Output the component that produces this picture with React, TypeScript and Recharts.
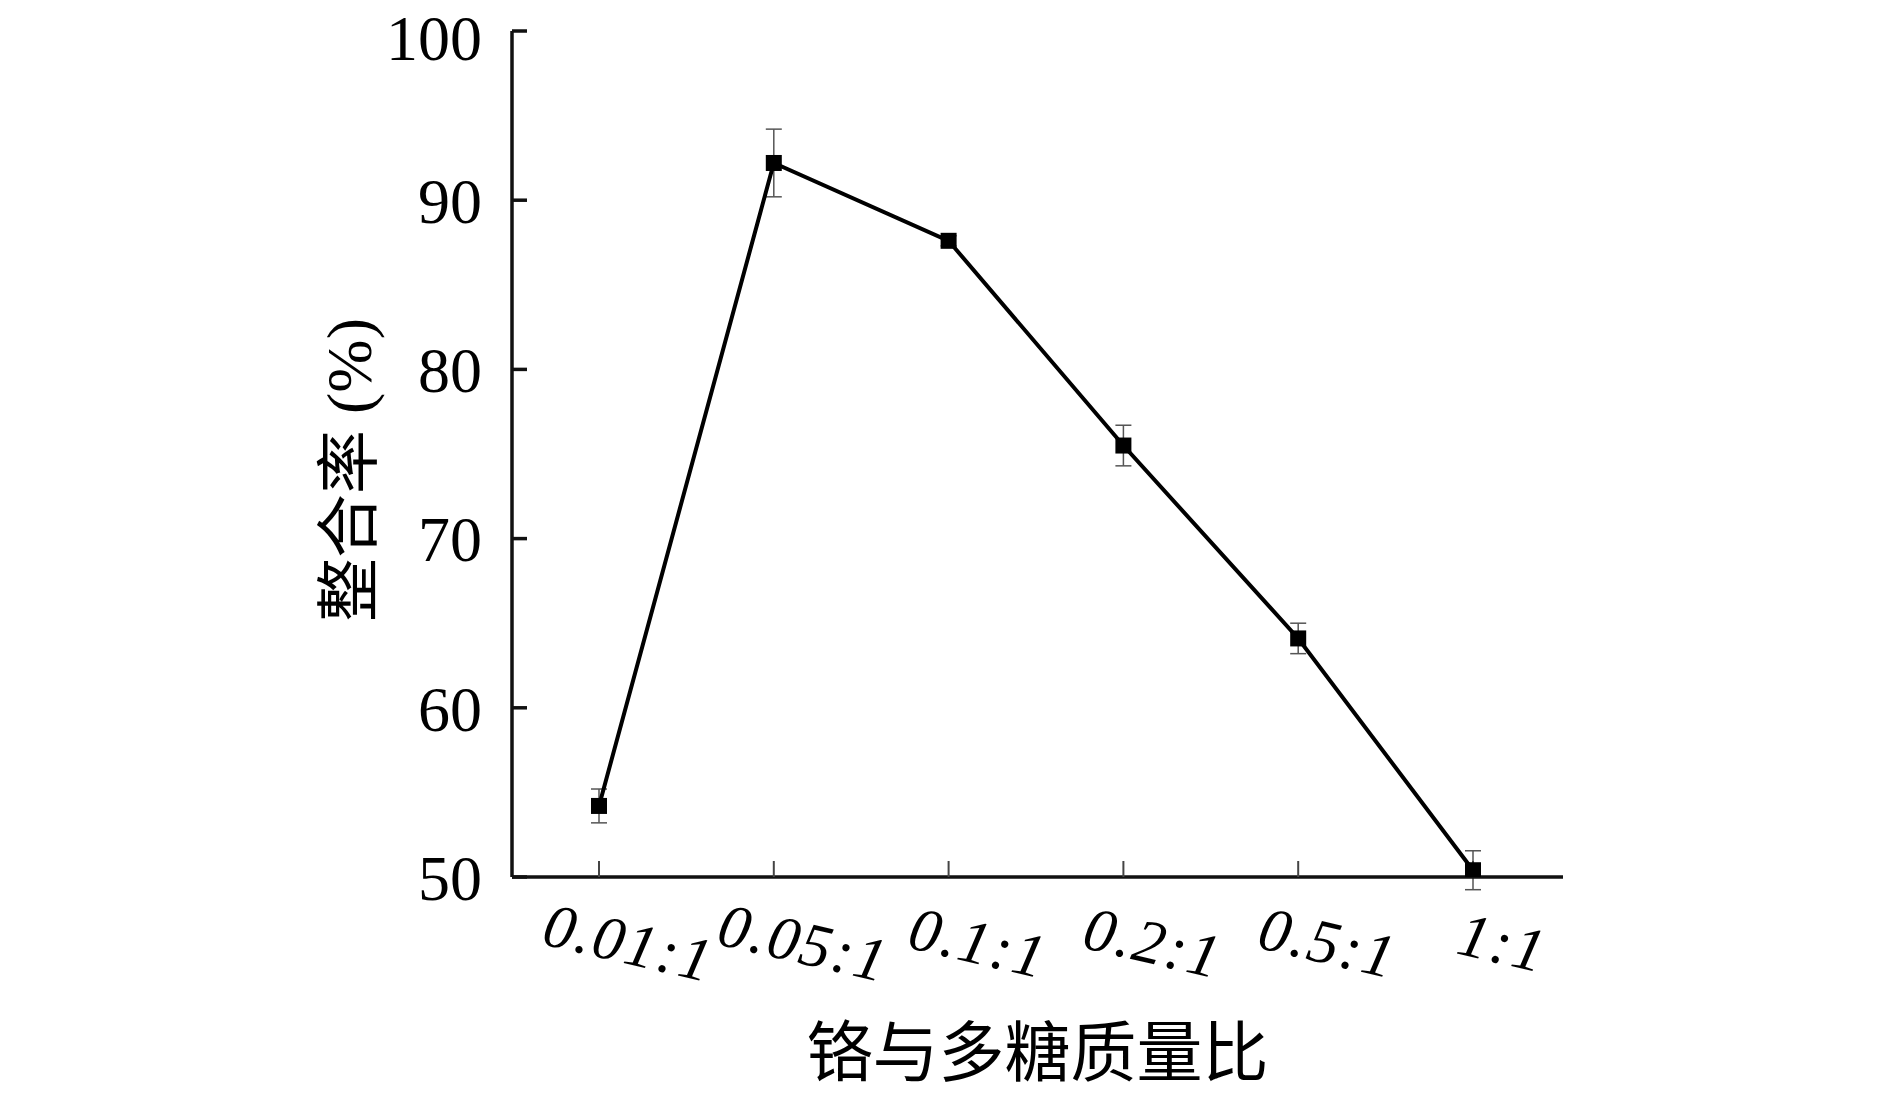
import React from 'react';
import { LineChart, Line, XAxis, YAxis, ErrorBar } from 'recharts';

// 铬与多糖质量比 (Cr : polysaccharide mass ratio)
const ratios = ['0.01:1', '0.05:1', '0.1:1', '0.2:1', '0.5:1', '1:1'];
// 整合率 (%)
const rates = [54.2, 92.2, 87.6, 75.5, 64.1, 50.4];
const errors = [1.0, 2.0, 0.3, 1.2, 0.9, 1.15];
const yTicks = [50, 60, 70, 80, 90, 100];

const data = ratios.map((name, i) => ({ name, rate: rates[i], err: errors[i] }));

const serif = '"Liberation Serif", "Times New Roman", serif';
const cjk = '"Liberation Serif", "Noto Sans CJK SC", serif';

const SquareDot = (props: any) => {
  const { cx, cy } = props;
  if (cx == null || cy == null) return null;
  return <rect x={cx - 8} y={cy - 8} width={16} height={16} fill="#000" />;
};

const RatioTick = (props: any) => {
  const { x, y, payload } = props;
  const px = x + 25;
  const py = y + 86;
  return (
    <text
      x={px}
      y={py}
      textAnchor="middle"
      transform={`rotate(13, ${px}, ${py})`}
      fontFamily={serif}
      fontStyle="italic"
      fontSize={62}
      letterSpacing={2}
      fill="#000"
    >
      {payload.value}
    </text>
  );
};

const YTitle = () => {
  const cx = 349;
  const cy = 470;
  return (
    <text
      x={cx}
      y={cy}
      textAnchor="middle"
      dominantBaseline="central"
      transform={`rotate(-90, ${cx}, ${cy})`}
      fontFamily={cjk}
      fontSize={64}
      fill="#000"
    >
      整合率 (%)
    </text>
  );
};

const XTitle = (props: any) => {
  const { viewBox } = props;
  const cx = viewBox.x + viewBox.width / 2;
  return (
    <text
      x={cx}
      y={1053}
      textAnchor="middle"
      dominantBaseline="central"
      fontFamily={cjk}
      fontSize={66}
      fill="#000"
    >
      铬与多糖质量比
    </text>
  );
};

export default function App() {
  return (
    <div style={{ position: 'absolute', left: 0, top: 0, background: '#fff' }}>
      <LineChart
        width={1890}
        height={1101}
        data={data}
        margin={{ top: 31, right: 327, left: 0, bottom: 0 }}
      >
        <XAxis
          dataKey="name"
          height={224}
          padding={{ left: 87, right: 90 }}
          axisLine={{ stroke: '#111', strokeWidth: 3.5 }}
          tickLine={{ stroke: '#444', strokeWidth: 2 }}
          tickSize={-16}
          tickMargin={16}
          tick={<RatioTick />}
          interval={0}
          label={<XTitle />}
        />
        <YAxis
          type="number"
          domain={[50, 100]}
          allowDataOverflow
          ticks={yTicks}
          width={512}
          axisLine={{ stroke: '#111', strokeWidth: 3.5 }}
          tickLine={{ stroke: '#111', strokeWidth: 3.5 }}
          tickSize={-15}
          tickMargin={45}
          tick={{ fill: '#000', fontSize: 64, fontFamily: serif }}
          label={<YTitle />}
        />
        <Line
          type="linear"
          dataKey="rate"
          stroke="#000"
          strokeWidth={4}
          dot={<SquareDot />}
          activeDot={false}
          isAnimationActive={false}
        >
          <ErrorBar dataKey="err" width={8} stroke="#555" strokeWidth={1.5} direction="y" />
        </Line>
      </LineChart>
    </div>
  );
}
